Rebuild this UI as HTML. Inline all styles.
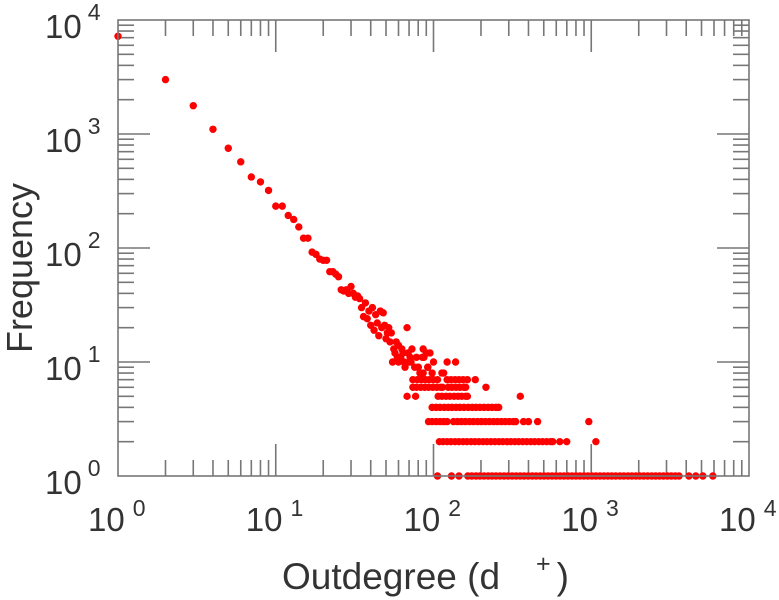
<!DOCTYPE html>
<html><head><meta charset="utf-8"><style>
html,body{margin:0;padding:0;background:#fff;}
svg{display:block;font-family:"Liberation Sans",Arial,sans-serif;}
</style></head><body>
<svg id="chart" width="779" height="600" viewBox="0 0 779 600">
<rect x="0" y="0" width="779" height="600" fill="#fff"/>
<g id="ticks"></g>
<g id="points"></g>
<rect x="118" y="20" width="631" height="456" fill="none" stroke="#777" stroke-width="1.6"/>
<g id="labels" fill="#333"></g>
<text x="282" y="589" font-size="37" fill="#333">Outdegree (d<tspan dx="36" dy="-17" font-size="25">+</tspan><tspan dx="6" dy="17">)</tspan></text>
<text transform="translate(32,268) rotate(-90)" text-anchor="middle" font-size="36" fill="#333">Frequency</text>
</svg>
<script>
const xExps = [0, 1, 2, 3, 4];
const yExps = [0, 1, 2, 3, 4];
const headDeg = [1,2,3,4,5,6,7,8,9,10,11,12,13,14,15,16,17,18,19,20,21,22,23,
24,25,26,27,28,29,30,31,32,33,34,35,36,37,38,39,40,41,42,43,44,45,46,47,48,49,50,51,52,53,54,55,56,57,58,59,60,
62,63,64,65,66,68,69,71,72,73,76,78,80,82,85,86,87,90,92,95,100];
const headFreq = [7200,3000,1770,1100,750,570,420,380,320,233,233,193,178,153,122,122,92,88,80,78,78,62,62,
59,56,43,42,43,40,46,40,37,38,36,30,25,33,24,28,21,30,19,26,22,17,28,20,27,21,16,18,20,15,18,10,13,12,15,11,14,
11,13,12,10,9,20,12,11,10,13,9,11,9,8,11,13,11,12,9,12,10];
const row1Deg = [106,130,145,165,175,186,197,209,222,235,249,264,280,297,315,334,354,375,398,422,447,474,502,532,564,598,634,672,712,755,800,848,899,953,1010,1070,1135,1203,1275,1350,1430,1520,1610,1710,1810,1920,2030,2150,2280,2420,2560,2710,2870,3040,3220,3410,3600,4160,4600,5100,5900];
const row2Deg = [109,115,122,129,137,145,154,163,173,183,194,206,218,231,245,260,275,292,309,328,347,368,390,414,438,465,492,522,553,570,632,699,1070];
const row3Deg = [93,98,104,110,116,122,134,142,150,159,169,179,190,201,213,226,240,254,269,285,302,320,332,372,400,457,965];
const row4Deg = [98,104,110,117,124,131,139,147,156,166,176,186,197,209,222,235,249,259];
const row5Deg = [68,77,107,113,120,127,135,143,151,160,164,355];
const row6Deg = [74,78,83,88,93,99,105,111,114,124,131,139,147,156,160,215];
const row7Deg = [74,79,84,89,94,100,106,122,129,137,145,154,164,184];
const row8Deg = [86,98,113,116];
const row9Deg = [80,92];
const row10Deg = [60,70,122,138];
const rowFreqs = [1,2,3,4,5,6,7,8,9,10];
const rows = [row1Deg,row2Deg,row3Deg,row4Deg,row5Deg,row6Deg,row7Deg,row8Deg,row9Deg,row10Deg];

const NS = "http://www.w3.org/2000/svg";
const X0 = 118, X1 = 749, Y0 = 476, Y1 = 20;
function xScale(d){ return X0 + Math.log10(d) / 4 * (X1 - X0); }
function yScale(f){ return Y0 - Math.log10(f) / 4 * (Y0 - Y1); }

const tg = document.getElementById('ticks');
function line(x1,y1,x2,y2){
  const l = document.createElementNS(NS,'line');
  l.setAttribute('x1',x1);l.setAttribute('y1',y1);l.setAttribute('x2',x2);l.setAttribute('y2',y2);
  l.setAttribute('stroke','#777');l.setAttribute('stroke-width','1.6');
  
  
  tg.appendChild(l);
}
for (let e = 0; e < 4; e++) {
  for (let m = 1; m <= 9; m++) {
    const v = m * Math.pow(10, e);
    const len = m === 1 ? 32 : 16;
    const x = xScale(v), y = yScale(v);
    if (!(m === 1 && e === 0)) {
      line(x, Y0, x, Y0 - len); line(x, Y1, x, Y1 + len);
      line(X0, y, X0 + len, y); line(X1, y, X1 - len, y);
    }
  }
}
const lg = document.getElementById('labels');
xExps.forEach(e => {
  const t = document.createElementNS(NS,'text');
  t.setAttribute('x', xScale(Math.pow(10,e)) - 30);
  t.setAttribute('y', 531);
  t.setAttribute('font-size', '33');
  
  
  t.innerHTML = '10<tspan dx="8" dy="-15" font-size="23">' + e + '</tspan>';
  lg.appendChild(t);
});
yExps.forEach(e => {
  const t = document.createElementNS(NS,'text');
  t.setAttribute('x', 45);
  t.setAttribute('y', yScale(Math.pow(10,e)) + 18);
  t.setAttribute('font-size', '33');
  
  
  t.innerHTML = '10<tspan dx="6" dy="-18" font-size="23">' + e + '</tspan>';
  lg.appendChild(t);
});
const pg = document.getElementById('points');
function dot(d, f){
  const c = document.createElementNS(NS,'circle');
  c.setAttribute('cx', xScale(d));
  c.setAttribute('cy', yScale(f));
  c.setAttribute('r', 3.7);
  c.setAttribute('fill', '#ff0000');
  
  
  pg.appendChild(c);
}
headDeg.forEach((d, i) => dot(d, headFreq[i]));
rows.forEach((r, j) => r.forEach(d => dot(d, rowFreqs[j])));
</script>
</body></html>
